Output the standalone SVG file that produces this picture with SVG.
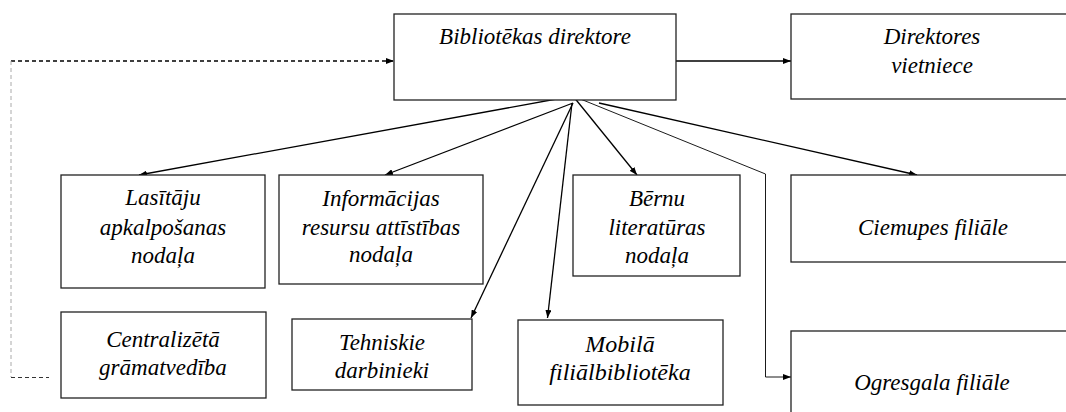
<svg xmlns="http://www.w3.org/2000/svg" width="1066" height="412" viewBox="0 0 1066 412">
<style>
.box{fill:#fff;stroke:#222;stroke-width:1.3}
text{font-size:23px;font-style:italic;fill:#000;text-anchor:middle}
.big text{font-size:24px}
.c{fill:none;stroke:#000;stroke-width:1.3}
.thin{fill:none;stroke:#000;stroke-width:0.9}
</style>
<defs>
<marker id="ah" viewBox="0 0 8 6" refX="8" refY="3" markerWidth="8" markerHeight="6" markerUnits="userSpaceOnUse" orient="auto">
<path d="M0,0 L8,3 L0,6 z" fill="#000"/>
</marker>
</defs>
<rect width="1066" height="412" fill="#fff"/>
<g id="connectors">
<path d="M11,61 H394" fill="none" stroke="#000" stroke-width="1.3" stroke-dasharray="4,3" marker-end="url(#ah)"/>
<path d="M11,61 V377" fill="none" stroke="#aaa" stroke-width="1" stroke-dasharray="4,3"/>
<path d="M11,377.5 H49" fill="none" stroke="#333" stroke-width="1" stroke-dasharray="4,3"/>
<path class="c" d="M676,61 H791" marker-end="url(#ah)"/>
<path class="c" d="M573,96 L139,175" marker-end="url(#ah)"/>
<path class="c" d="M573,103 L385,175" marker-end="url(#ah)"/>
<path class="c" d="M573,103 L471,318" marker-end="url(#ah)"/>
<path class="c" d="M572,103 L547.5,318" marker-end="url(#ah)"/>
<path class="c" d="M573,96 L637,175" marker-end="url(#ah)"/>
<path class="thin" d="M573,96 L765.5,174 V377 H791" marker-end="url(#ah)"/>
<path class="c" d="M599,103 L917,175" marker-end="url(#ah)"/>
</g>
<g id="director" font-family="Liberation Serif, serif">
<rect class="box" x="394" y="14" width="282" height="86"/>
<text x="535" y="44">Bibliotēkas direktore</text>
</g>
<g id="vietniece" font-family="Liberation Serif, serif">
<rect class="box" x="791" y="14" width="283" height="85"/>
<text x="932" y="44">Direktores</text>
<text x="932" y="73">vietniece</text>
</g>
<g id="lasitaju" font-family="Liberation Serif, serif">
<rect class="box" x="61" y="175" width="204" height="113"/>
<text x="163" y="205">Lasītāju</text>
<text x="163" y="235">apkalpošanas</text>
<text x="163" y="263">nodaļa</text>
</g>
<g id="informacijas" font-family="Liberation Serif, serif">
<rect class="box" x="279" y="175" width="204" height="109"/>
<text x="381" y="206">Informācijas</text>
<text x="381" y="235">resursu attīstības</text>
<text x="381" y="262">nodaļa</text>
</g>
<g id="bernu" font-family="Liberation Serif, serif">
<rect class="box" x="573" y="175" width="167" height="101"/>
<text x="657" y="206">Bērnu</text>
<text x="657" y="235">literatūras</text>
<text x="657" y="263">nodaļa</text>
</g>
<g id="ciemupes" font-family="Liberation Serif, serif">
<rect class="box" x="791" y="175" width="283" height="87"/>
<text x="933" y="235">Ciemupes filiāle</text>
</g>
<g id="centralizeta" font-family="Liberation Serif, serif">
<rect class="box" x="61" y="312" width="205" height="86"/>
<text x="163" y="347">Centralizētā</text>
<text x="163" y="375">grāmatvedība</text>
</g>
<g id="tehniskie" font-family="Liberation Serif, serif">
<rect class="box" x="292" y="319" width="180" height="71"/>
<text x="382" y="350">Tehniskie</text>
<text x="382" y="378">darbinieki</text>
</g>
<g id="mobila" class="big" font-family="Liberation Serif, serif">
<rect class="box" x="518" y="320" width="205" height="85"/>
<text x="620" y="352">Mobilā</text>
<text x="620" y="380">filiālbibliotēka</text>
</g>
<g id="ogresgala" font-family="Liberation Serif, serif">
<rect class="box" x="791" y="331" width="283" height="90"/>
<text x="932" y="390">Ogresgala filiāle</text>
</g>
</svg>
